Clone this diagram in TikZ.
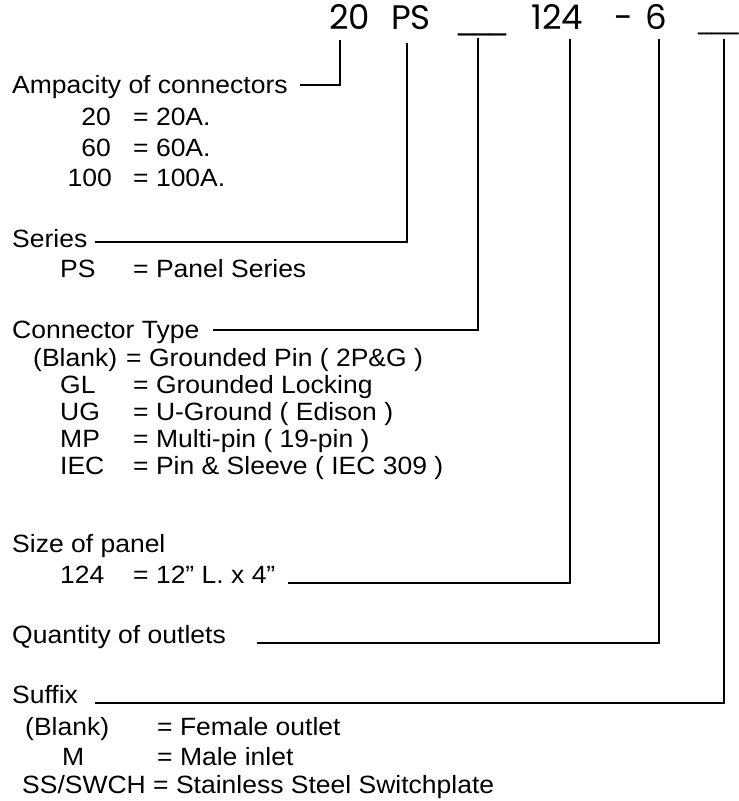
\documentclass[tikz,border=0pt]{standalone}
\usepackage{fontspec}
\setmainfont{Liberation Sans}[FakeStretch=1.06]
\newfontfamily\codefont{Poppins}
\newfontfamily\barfont{DejaVu Sans}
\begin{document}
\begin{tikzpicture}[x=1pt,y=-1pt,
  txt/.style={inner sep=0pt, anchor=base west, font=\fontsize{25}{30}\selectfont},
  rkey/.style={txt, anchor=base east},
  code/.style={inner sep=0pt, anchor=base west, font=\codefont\fontsize{34}{40}\selectfont},
  blank/.style={inner sep=0pt, anchor=base west, font=\barfont\fontsize{#1}{40}\selectfont},
  conn/.style={line width=2.7pt, line join=miter, line cap=butt}
]
\useasboundingbox (0,0) rectangle (739,801);

% ---- code line ----
\node[code] (c20)   at (329,29) {20};
\node[code] (cPS)   at (391,29) {PS};
\node[blank=32] (cCT)  at (458,28) {\_\_\_};
\node[code] (c124)  at (531,29) {124};
\node[code] (cdash) at (614,29) {-};
\node[code] (c6)    at (645,29) {6};
\node[blank=27] (cSuf) at (698,28) {\_\_\_};

% tick tops
\coordinate (t20)  at (340,40);
\coordinate (tPS)  at (407,43);
\coordinate (tCT)  at (478,38);
\coordinate (t124) at (570,39);
\coordinate (t6)   at (659,39);
\coordinate (tSuf) at (724,39);

% ---- Ampacity ----
\node[txt]  (lAmp) at (12,93) {Ampacity of connectors};
\node[rkey] (k20)  at (111,125) {20};  \node[txt] (v20)  at (133,125) {= 20A.};
\node[rkey] (k60)  at (111,156) {60};  \node[txt] (v60)  at (133,156) {= 60A.};
\node[rkey] (k100) at (112,186) {100}; \node[txt] (v100) at (133,186) {= 100A.};

% ---- Series ----
\node[txt] (lSer) at (12,247) {Series};
\node[txt] (kPS)  at (60,277) {PS};  \node[txt] (vPS) at (133,277) {= Panel Series};

% ---- Connector type ----
\node[txt] (lCT)  at (12,338) {Connector Type};
\node[txt] (kBl)  at (33,366) {(Blank)}; \node[txt] (vBl) at (126,366) {= Grounded Pin ( 2P\&G )};
\node[txt] (kGL)  at (60,393) {GL};  \node[txt] (vGL) at (133,393) {= Grounded Locking};
\node[txt] (kUG)  at (60,420) {UG};  \node[txt] (vUG) at (133,420) {= U-Ground ( Edison )};
\node[txt] (kMP)  at (60,447) {MP};  \node[txt] (vMP) at (133,447) {= Multi-pin ( 19-pin )};
\node[txt] (kIEC) at (60,474) {IEC}; \node[txt] (vIEC) at (133,474) {= Pin \& Sleeve ( IEC 309 )};

% ---- Size ----
\node[txt] (lSize) at (12,552) {Size of panel};
\node[txt] (k124)  at (60,583) {124}; \node[txt] (v124) at (133,583) {= 12” L. x 4”};

% ---- Quantity ----
\node[txt] (lQty) at (12,643) {Quantity of outlets};

% ---- Suffix ----
\node[txt] (lSuf) at (12,703) {Suffix};
\node[txt] (kSB)  at (25,735) {(Blank)};  \node[txt] (vSB) at (157,735) {= Female outlet};
\node[txt] (kM)   at (62,765) {M};        \node[txt] (vM)  at (157,765) {= Male inlet};
\node[txt] (kSS)  at (22,793) {SS/SWCH};  \node[txt] (vSS) at (153,793) {= Stainless Steel Switchplate};

% ---- connectors ----
\coordinate (s20)  at (300,85);
\coordinate (sPS)  at (95,242);
\coordinate (sCT)  at (213,330);
\coordinate (s124) at (288,583);
\coordinate (s6)   at (257,643);
\coordinate (sSuf) at (95,703);

\draw[conn] (s20)  -| (t20);
\draw[conn] (sPS)  -| (tPS);
\draw[conn] (sCT)  -| (tCT);
\draw[conn] (s124) -| (t124);
\draw[conn] (s6)   -| (t6);
\draw[conn] (sSuf) -| (tSuf);
\end{tikzpicture}
\end{document}
